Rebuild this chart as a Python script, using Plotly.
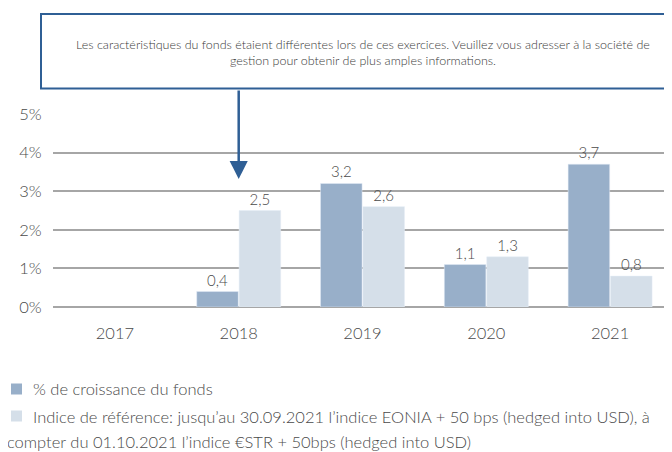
import plotly.graph_objects as go

years = ["2017", "2018", "2019", "2020", "2021"]
fund = [None, 0.4, 3.2, 1.1, 3.7]
bench = [None, 2.5, 2.6, 1.3, 0.8]
fund_name = "% de croissance du fonds"
bench_name_parts = ["Indice de référence: jusqu’au 30.09.2021 l’indice EONIA + 50 bps (hedged into USD), à",
                    "compter du 01.10.2021 l’indice €STR + 50bps (hedged into USD)"]
bench_name = " ".join(bench_name_parts)
note = ("Les caractéristiques du fonds étaient différentes lors de ces exercices. Veuillez vous adresser à la société de<br>"
        "gestion pour obtenir de plus amples informations.")
y_ticks = [0, 1, 2, 3, 4, 5]
y_labels = ["0%", "1%", "2%", "3%", "4%", "5%"]

FUND_C = "#98afc9"
BENCH_C = "#d5dfe9"
TXT = "#4a4a4a"
FONT = "Lato"
W = 300
BOX_C = "#2f5f95"


def lab(vals):
    return [None if v is None else f"{v:.1f}".replace(".", ",") for v in vals]


def fnt(size, color=TXT):
    return dict(size=size, color=color, family=FONT, weight=W)


fig = go.Figure()
fig.add_trace(go.Bar(x=years, y=fund, name=fund_name, marker_color=FUND_C, text=lab(fund),
                     textposition="outside", textfont=fnt(15), cliponaxis=False))
fig.add_trace(go.Bar(x=years, y=bench, name=bench_name, marker_color=BENCH_C, text=lab(bench),
                     textposition="outside", textfont=fnt(15), cliponaxis=False))

# page body has an 8px offset; compensate so the plot sits where the reference has it
fig.update_layout(
    width=700, height=444,
    margin=dict(l=45, r=36, t=106, b=145),
    paper_bgcolor="white", plot_bgcolor="white",
    barmode="group", bargap=0.315, bargroupgap=0.02,
    showlegend=False,
    font=fnt(16),
    xaxis=dict(showgrid=False, showline=False, ticks="outside", ticklen=11,
               tickcolor="rgba(0,0,0,0)", tickfont=fnt(16.5)),
    yaxis=dict(range=[0, 5], tickvals=y_ticks, ticktext=y_labels, showgrid=True,
               gridcolor="#a6a6a6", gridwidth=1.5, zeroline=True, zerolinecolor="#a6a6a6",
               zerolinewidth=1.5, ticks="outside", ticklen=7, tickcolor="rgba(0,0,0,0)",
               tickfont=fnt(16.5), showline=False),
)


def px_x(wx):
    return (wx - 53) / 619


def px_y(wy):
    return (307 - wy) / 193


# note box
fig.add_shape(type="rect", xref="paper", yref="paper", x0=px_x(41), x1=px_x(690),
              y0=px_y(88.5), y1=px_y(14), line=dict(color=BOX_C, width=2),
              fillcolor="white", layer="above")
fig.add_annotation(xref="paper", yref="paper", x=px_x(363), y=px_y(52.5), text=note,
                   showarrow=False, xanchor="center", yanchor="middle",
                   font=fnt(12.5, "#3a3a3a"), align="center")
# arrow
fig.add_annotation(xref="paper", yref="paper", x=px_x(238.7), y=px_y(179), ax=0, ay=-90,
                   text="", showarrow=True, arrowhead=2, arrowsize=1.45, arrowwidth=2.5,
                   arrowcolor=BOX_C, standoff=0)

# legend (manual)
fig.add_shape(type="rect", xref="paper", yref="paper", x0=px_x(11), x1=px_x(22),
              y0=px_y(394.5), y1=px_y(383.5), fillcolor=FUND_C, line_width=0)
fig.add_shape(type="rect", xref="paper", yref="paper", x0=px_x(11), x1=px_x(22),
              y0=px_y(421.5), y1=px_y(410.5), fillcolor=BENCH_C, line_width=0)
fig.add_annotation(xref="paper", yref="paper", x=px_x(31), y=px_y(389), text=fund_name,
                   showarrow=False, xanchor="left", yanchor="middle", font=fnt(16.5))
fig.add_annotation(xref="paper", yref="paper", x=px_x(31), y=px_y(416.5), text=bench_name_parts[0],
                   showarrow=False, xanchor="left", yanchor="middle", font=fnt(16.5))
fig.add_annotation(xref="paper", yref="paper", x=px_x(5), y=px_y(442), text=bench_name_parts[1],
                   showarrow=False, xanchor="left", yanchor="middle", font=fnt(16.5))

fig.write_html("out.html")
